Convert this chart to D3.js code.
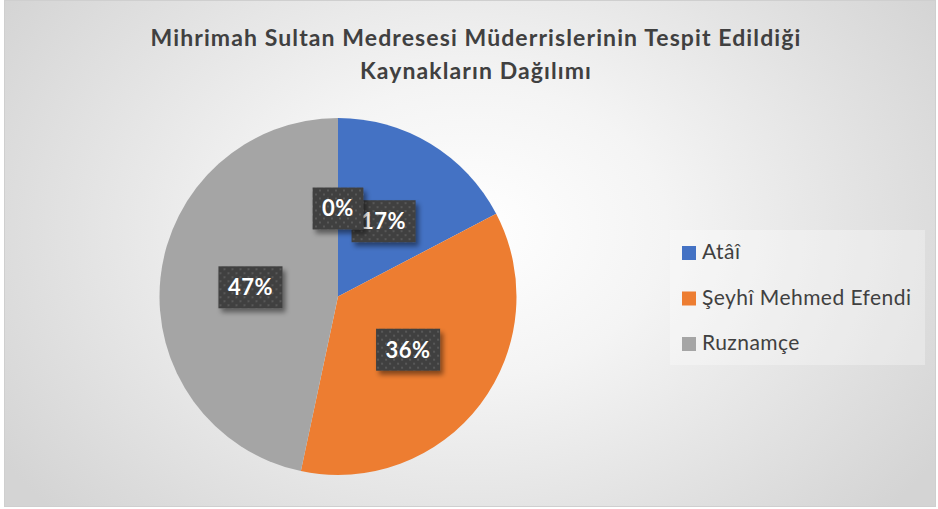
<!DOCTYPE html>
<html><head><meta charset="utf-8">
<script src="https://cdn.jsdelivr.net/npm/d3@7"></script>
<style>html,body{margin:0;padding:0;background:#fff;}svg{display:block;}</style>
</head><body>
<svg id="chart" width="938" height="509"></svg>
<script>
const titleLines = ["Mihrimah Sultan Medresesi Müderrislerinin Tespit Edildiği", "Kaynakların Dağılımı"];
const categories = ["Atâî", "Şeyhî Mehmed Efendi", "Ruznamçe", ""];
const values = [13, 27, 35, 0];
const colors = ["#4472C4", "#ED7D31", "#A5A5A5", "#FFC000"];

const W = 938, H = 509;
const svg = d3.select("#chart");
const defs = svg.append("defs");

const rg = defs.append("radialGradient").attr("id","bg")
  .attr("gradientUnits","userSpaceOnUse").attr("cx",470).attr("cy",230).attr("r",560)
  .attr("gradientTransform","translate(470,230) scale(1,0.75) translate(-470,-230)");
rg.append("stop").attr("offset","0").attr("stop-color","#ffffff");
rg.append("stop").attr("offset","0.35").attr("stop-color","#f4f4f4");
rg.append("stop").attr("offset","1").attr("stop-color","#d4d4d4");

const pat = defs.append("pattern").attr("id","dots").attr("patternUnits","userSpaceOnUse")
  .attr("width",8).attr("height",8);
pat.append("rect").attr("width",8).attr("height",8).attr("fill","#404040");
pat.append("rect").attr("x",1).attr("y",1).attr("width",2).attr("height",2).attr("fill","#585858");
pat.append("rect").attr("x",5).attr("y",5).attr("width",2).attr("height",2).attr("fill","#585858");

const f = defs.append("filter").attr("id","shadow").attr("x","-30%").attr("y","-30%").attr("width","170%").attr("height","170%");
f.append("feDropShadow").attr("dx",3).attr("dy",4).attr("stdDeviation",2.5)
  .attr("flood-color","#000").attr("flood-opacity",0.45);

svg.append("rect").attr("x",4.5).attr("y",0.5).attr("width",931).attr("height",506)
  .attr("fill","url(#bg)").attr("stroke","#cfcfcf").attr("stroke-width",1);

// Title
svg.append("g").selectAll("text").data(titleLines).join("text")
  .attr("x",476).attr("y",(d,i)=>46 + i*33)
  .attr("text-anchor","middle")
  .attr("font-family","Lato, 'Open Sans', sans-serif").attr("font-weight","bold")
  .attr("font-size",23).attr("letter-spacing",1.1).attr("fill","#404040")
  .text(d=>d);

// Pie
const cx = 338, cy = 296.5, R = 178.5;
const pie = d3.pie().sort(null).value(d=>d)(values);
const arc = d3.arc().innerRadius(0).outerRadius(R);
const g = svg.append("g").attr("transform",`translate(${cx},${cy})`);
g.selectAll("path").data(pie).join("path")
  .attr("d",arc).attr("fill",(d,i)=>colors[i]);

const total = d3.sum(values);
const lg = g.append("g");
pie.forEach((d,i)=>{
  const a = (d.startAngle + d.endAngle)/2;
  const x = 88*Math.sin(a), y = -88*Math.cos(a);
  const txt = Math.round(d.value/total*100) + "%";
  const gg = lg.append("g").attr("transform",`translate(${x},${y})`);
  const t = gg.append("text").attr("text-anchor","middle").attr("dy","0.36em")
    .attr("font-family","Lato, 'Open Sans', sans-serif").attr("font-weight","bold")
    .attr("font-size",22).attr("letter-spacing",0.5).attr("fill","#fff").text(txt);
  const w = t.node().getComputedTextLength() + 19;
  gg.insert("rect","text").attr("x",-w/2).attr("y",-21).attr("width",w).attr("height",42)
    .attr("fill","url(#dots)").attr("filter","url(#shadow)");
});

// Legend
const legItems = categories.map((c,i)=>({c,i})).filter(d=>d.c !== "");
const leg = svg.append("g");
leg.append("rect").attr("x",670).attr("y",230).attr("width",255).attr("height",135)
  .attr("fill","#ffffff").attr("fill-opacity",0.3);
const li = leg.selectAll("g.item").data(legItems).join("g").attr("class","item")
  .attr("transform",(d,k)=>`translate(682,${246 + k*45.5})`);
li.append("rect").attr("width",14).attr("height",14).attr("fill",d=>colors[d.i]);
li.append("text").attr("x",20).attr("y",13)
  .attr("font-family","Lato, 'Open Sans', sans-serif").attr("font-size",21).attr("letter-spacing",0.45).attr("fill","#404040")
  .text(d=>d.c);
</script>
</body></html>
